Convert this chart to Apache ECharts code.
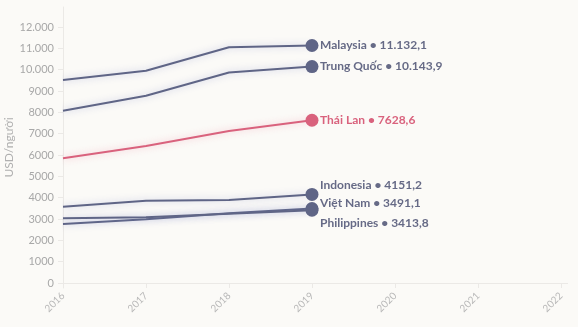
<!DOCTYPE html>
<html>
<head>
<meta charset="utf-8">
<script src="https://cdn.jsdelivr.net/npm/echarts@6/dist/echarts.min.js"></script>
<style>
  html, body { margin: 0; padding: 0; background: #fbfaf7; }
  #chart { width: 578px; height: 327px; }
</style>
</head>
<body>
<div id="chart"></div>
<script>
// GDP per capita (USD/người), 2016–2019
const years = [2016, 2017, 2018, 2019];
const axisYears = [2016, 2017, 2018, 2019, 2020, 2021, 2022];
const yTicks = [0, 1000, 2000, 3000, 4000, 5000, 6000, 7000, 8000, 9000, 10000, 11000, 12000];

const malaysia = [9510, 9952, 11050, 11132.1];
const trungQuoc = [8075, 8780, 9870, 10143.9];
const thaiLan = [5850, 6425, 7125, 7628.6];
const indonesia = [3570, 3850, 3894, 4151.2];
const vietNam = [2770, 2992, 3267, 3491.1];
const philippines = [3038, 3077, 3252, 3413.8];

const names = ['Malaysia', 'Trung Quốc', 'Thái Lan', 'Indonesia', 'Việt Nam', 'Philippines'];
const values = [malaysia, trungQuoc, thaiLan, indonesia, vietNam, philippines];

const DARK = '#5f6586';
const DARK_TEXT = '#666a86';
const PINK = '#d9627d';

// Vietnamese number format: '.' thousands (from 10.000 up), ',' decimals
function fmtInt(v) {
  const s = String(Math.round(v));
  return v >= 10000 ? s.replace(/\B(?=(\d{3})+(?!\d))/g, '.') : s;
}
function fmtVal(v) {
  const int = Math.floor(v);
  const dec = Math.round((v - int) * 10);
  return fmtInt(int) + ',' + dec;
}

const labelOffsets = [[0, 0], [0, 0], [0, 0], [0, -9], [0, -5], [0, 13]];

const series = names.map((name, i) => {
  const isPink = name === 'Thái Lan';
  const color = isPink ? PINK : DARK;
  const last = values[i].length - 1;
  return {
    name: name,
    type: 'line',
    data: years.map((y, j) => [y, values[i][j]]),
    showSymbol: true,
    symbol: 'circle',
    symbolSize: (v, p) => (p.dataIndex === last ? 13 : 0),
    itemStyle: { color: color },
    lineStyle: {
      color: color,
      width: 2,
      shadowColor: isPink ? 'rgba(235,120,150,0.45)' : 'rgba(120,130,200,0.45)',
      shadowBlur: 7
    },
    emphasis: { disabled: true },
    z: isPink ? 3 : 2,
    endLabel: {
      show: true,
      formatter: () => name + ' • ' + fmtVal(values[i][last]),
      color: isPink ? PINK : DARK_TEXT,
      fontFamily: 'Lato',
      fontWeight: 'bold',
      fontSize: 12,
      distance: 8,
      offset: labelOffsets[i]
    }
  };
});

const chart = echarts.init(document.getElementById('chart'), null, { renderer: 'canvas' });
chart.setOption({
  backgroundColor: '#fbfaf7',
  animation: false,
  grid: { left: 63, right: 10.4, top: 7, bottom: 39, containLabel: false, outerBoundsMode: 'none' },
  xAxis: {
    type: 'value',
    min: 2016,
    max: 2022.08,
    axisLine: { show: true, lineStyle: { color: '#ebe9e6', width: 1 } },
    axisTick: { show: true, length: 5, lineStyle: { color: '#ebe9e6' }, customValues: axisYears },
    axisLabel: {
      customValues: axisYears,
      rotate: 45,
      color: '#b8b8b8',
      fontFamily: 'Lato',
      fontSize: 10,
      margin: 6,
      formatter: v => String(v)
    },
    splitLine: { show: false }
  },
  yAxis: {
    type: 'value',
    min: -234,
    max: 12937,
    name: 'USD/người',
    nameLocation: 'middle',
    nameRotate: 90,
    nameGap: 48,
    nameMoveOverlap: false,
    nameTextStyle: { color: '#b0b0b0', fontFamily: 'Lato', fontSize: 12 },
    axisLine: { show: true, lineStyle: { color: '#ebe9e6', width: 1 } },
    axisTick: { show: true, length: 5, lineStyle: { color: '#ebe9e6' }, customValues: yTicks },
    axisLabel: {
      customValues: yTicks,
      color: '#a8a8a8',
      fontFamily: 'Lato',
      fontSize: 11,
      margin: 9,
      formatter: v => fmtInt(v)
    },
    splitLine: { show: false }
  },
  series: series
});
</script>
</body>
</html>
